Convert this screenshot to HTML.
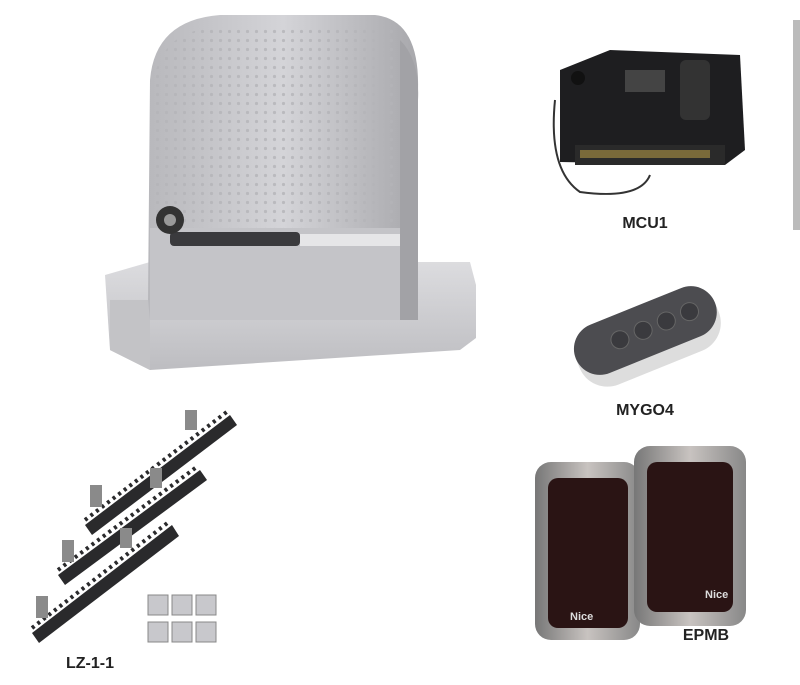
<!DOCTYPE html>
<html><head><meta charset="utf-8"><style>
html,body{margin:0;padding:0;background:#fff;width:800px;height:685px;overflow:hidden}
svg{display:block}
text{font-family:"Liberation Sans",sans-serif;font-weight:bold;fill:#222}
</style></head><body>
<svg width="800" height="685" viewBox="0 0 800 685">
<defs>
<linearGradient id="g1" x1="0" x2="1"><stop offset="0" stop-color="#b8b8bc"/><stop offset="0.5" stop-color="#d4d4d8"/><stop offset="1" stop-color="#a8a8ac"/></linearGradient>
<linearGradient id="g2" x1="0" x2="0" y1="0" y2="1"><stop offset="0" stop-color="#dcdcdf"/><stop offset="1" stop-color="#bdbdc1"/></linearGradient>
<pattern id="dots" width="9" height="9" patternUnits="userSpaceOnUse"><circle cx="4.5" cy="4.5" r="1.6" fill="#b4b4b8"/></pattern>
<linearGradient id="pc" x1="0" x2="1"><stop offset="0" stop-color="#777"/><stop offset="0.5" stop-color="#c8c3c0"/><stop offset="1" stop-color="#888"/></linearGradient>
</defs>
<path d="M105 275 L150 262 L470 262 L476 285 L476 338 L460 350 L150 370 L110 350 Z" fill="url(#g2)"/>
<path d="M110 300 L150 300 L150 370 L110 350 Z" fill="#c3c3c6"/>
<path d="M148 300 L150 80 Q155 20 220 15 L375 15 Q420 20 418 90 L418 320 L150 320 Z" fill="url(#g1)"/>
<path d="M150 280 L152 90 Q158 30 215 28 L395 28 L400 280 Z" fill="url(#dots)" opacity="0.8"/>
<path d="M400 40 Q420 60 418 100 L418 320 L400 320 Z" fill="#a2a2a6"/>
<rect x="150" y="228" width="250" height="92" fill="#c4c4c8"/>
<rect x="170" y="232" width="130" height="14" rx="4" fill="#3a3a3d"/>
<rect x="300" y="234" width="100" height="12" fill="#e6e6e8"/>
<circle cx="170" cy="220" r="14" fill="#333"/><circle cx="170" cy="220" r="6" fill="#999"/>
<rect x="793" y="20" width="7" height="210" fill="#bbb"/>
<path d="M560 70 L610 50 L740 55 L745 150 L725 165 L560 162 Z" fill="#1e1e20"/>
<rect x="575" y="145" width="150" height="20" fill="#2a2a2a"/>
<rect x="580" y="150" width="130" height="8" fill="#7a6a3a"/>
<rect x="680" y="60" width="30" height="60" rx="6" fill="#333"/>
<rect x="625" y="70" width="40" height="22" fill="#444"/>
<circle cx="578" cy="78" r="7" fill="#111"/>
<path d="M555 100 Q548 170 580 192 Q640 200 650 175" stroke="#333" stroke-width="2" fill="none"/>
<text x="645" y="228" font-size="16" text-anchor="middle">MCU1</text>
<g transform="rotate(-22 645 335)">
<rect x="572" y="305" width="150" height="66" rx="30" fill="#ddd"/>
<rect x="572" y="305" width="150" height="52" rx="26" fill="#4c4c50"/>
<circle cx="620" cy="330" r="9" fill="#3a3a3e" stroke="#666"/>
<circle cx="645" cy="330" r="9" fill="#3a3a3e" stroke="#666"/>
<circle cx="670" cy="330" r="9" fill="#3a3a3e" stroke="#666"/>
<circle cx="695" cy="330" r="9" fill="#3a3a3e" stroke="#666"/>
</g>
<text x="645" y="415" font-size="16" text-anchor="middle">MYGO4</text>
<rect x="535" y="462" width="105" height="178" rx="16" fill="url(#pc)"/>
<rect x="548" y="478" width="80" height="150" rx="10" fill="#2a1414"/>
<text x="570" y="620" font-size="11" style="fill:#ddd">Nice</text>
<rect x="634" y="446" width="112" height="180" rx="16" fill="url(#pc)"/>
<rect x="647" y="462" width="86" height="150" rx="10" fill="#2a1414"/>
<text x="705" y="598" font-size="11" style="fill:#ddd">Nice</text>
<text x="706" y="640" font-size="16" text-anchor="middle">EPMB</text>
<g fill="#2a2a2c">
<polygon points="85,525 230,415 237,425 92,535"/>
<polygon points="58,575 200,470 207,480 65,585"/>
<polygon points="32,633 172,525 179,536 39,643"/>
</g>
<g stroke="#2a2a2c" stroke-width="4" stroke-dasharray="3 4">
<line x1="85" y1="520" x2="228" y2="411"/>
<line x1="58" y1="570" x2="198" y2="466"/>
<line x1="32" y1="628" x2="170" y2="521"/>
</g>
<g fill="#8a8a8a"><rect x="90" y="485" width="12" height="22"/><rect x="185" y="410" width="12" height="20"/><rect x="62" y="540" width="12" height="22"/><rect x="150" y="468" width="12" height="20"/><rect x="36" y="596" width="12" height="22"/><rect x="120" y="528" width="12" height="20"/></g>
<g fill="#c8c8cc" stroke="#888">
<rect x="148" y="595" width="20" height="20"/><rect x="172" y="595" width="20" height="20"/><rect x="196" y="595" width="20" height="20"/>
<rect x="148" y="622" width="20" height="20"/><rect x="172" y="622" width="20" height="20"/><rect x="196" y="622" width="20" height="20"/>
</g>
<text x="90" y="668" font-size="16" text-anchor="middle">LZ-1-1</text>
</svg>
</body></html>
